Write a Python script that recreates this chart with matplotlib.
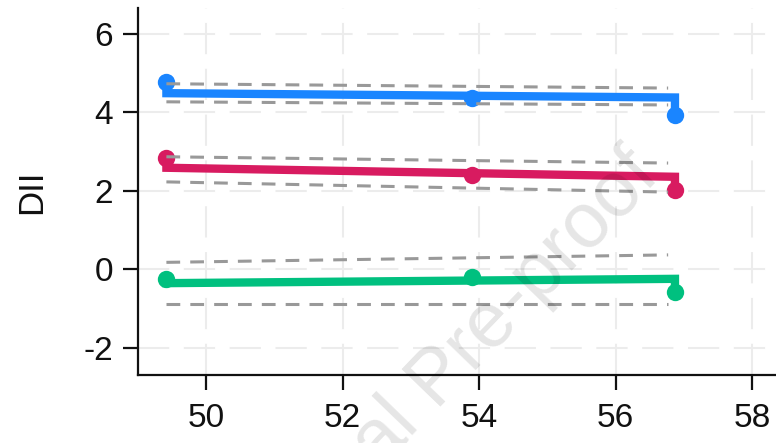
import matplotlib
matplotlib.use("Agg")
import matplotlib.pyplot as plt

plt.rcParams['font.family'] = ['Liberation Sans', 'DejaVu Sans']

# ---- data ----
x_pts = [49.42, 53.9, 56.87]
blue_pts = [4.78, 4.37, 3.94]
red_pts = [2.84, 2.41, 2.03]
green_pts = [-0.25, -0.19, -0.57]

fit_x = [49.42, 56.87]
blue_fit = [4.49, 4.38]
red_fit = [2.59, 2.36]
green_fit = [-0.35, -0.24]

ci_x = [49.42, 56.77]
blue_hi = [4.73, 4.62]
blue_lo = [4.27, 4.19]
red_hi = [2.87, 2.71]
red_lo = [2.23, 1.97]
green_hi = [0.18, 0.37]
green_lo = [-0.87, -0.87]

xticks = [50, 52, 54, 56, 58]
yticks = [-2, 0, 2, 4, 6]

colors = {"blue": "#1A85FF", "red": "#D81B60", "green": "#00C07F"}

W, H = 776, 443
fig = plt.figure(figsize=(W / 100, H / 100), dpi=100)
ax = fig.add_axes([138 / W, 68 / H, (W - 138) / W, (375 - 8) / H])

ax.set_xlim(49.004, 58.35)
ax.set_ylim(-2.69, 6.66)

ax.grid(True, linestyle=(0, (15, 7)), color='#ececec', lw=1.5, zorder=0)
ax.set_axisbelow(True)

series = [
    (blue_pts, blue_fit, blue_hi, blue_lo, colors["blue"]),
    (red_pts, red_fit, red_hi, red_lo, colors["red"]),
    (green_pts, green_fit, green_hi, green_lo, colors["green"]),
]
for pts, fit, hi, lo, c in series:
    # fit line with connectors to observed end points
    px = [x_pts[0], fit_x[0], fit_x[1], x_pts[-1]]
    py = [pts[0], fit[0], fit[1], pts[-1]]
    ax.plot(px, py, color=c, lw=6, solid_capstyle='butt', solid_joinstyle='miter', zorder=3)
    ax.plot(x_pts, pts, 'o', color=c, ms=12.5, mec='none', zorder=4)
    for ci in (hi, lo):
        ax.plot(ci_x, ci, color='#999999', lw=2.2, dashes=(4.5, 3.3), zorder=5)

for s in ['top', 'right']:
    ax.spines[s].set_visible(False)
for s in ['left', 'bottom']:
    ax.spines[s].set_linewidth(1.6)
    ax.spines[s].set_color('#111111')

ax.set_xticks(xticks)
ax.set_yticks(yticks)
ax.set_xticklabels([str(v) for v in xticks])
ax.set_yticklabels([str(v) for v in yticks])
ax.tick_params(axis='both', length=11, width=1.6, color='#111111',
               labelsize=24, labelcolor='#111111')
ax.tick_params(axis='x', pad=9)
ax.tick_params(axis='y', pad=7)

fig.text(32 / W, 1 - 192 / H, "DII", rotation=90, ha='center', va='center',
         fontsize=25, color='#111111')

# watermark
fig.text(662 / W, 1 - 178 / H, "Journal Pre-proof", rotation=46,
         rotation_mode='anchor', ha='right', va='baseline',
         fontsize=56, color='black', alpha=0.10, zorder=10)

fig.savefig("out.png", dpi=100)
